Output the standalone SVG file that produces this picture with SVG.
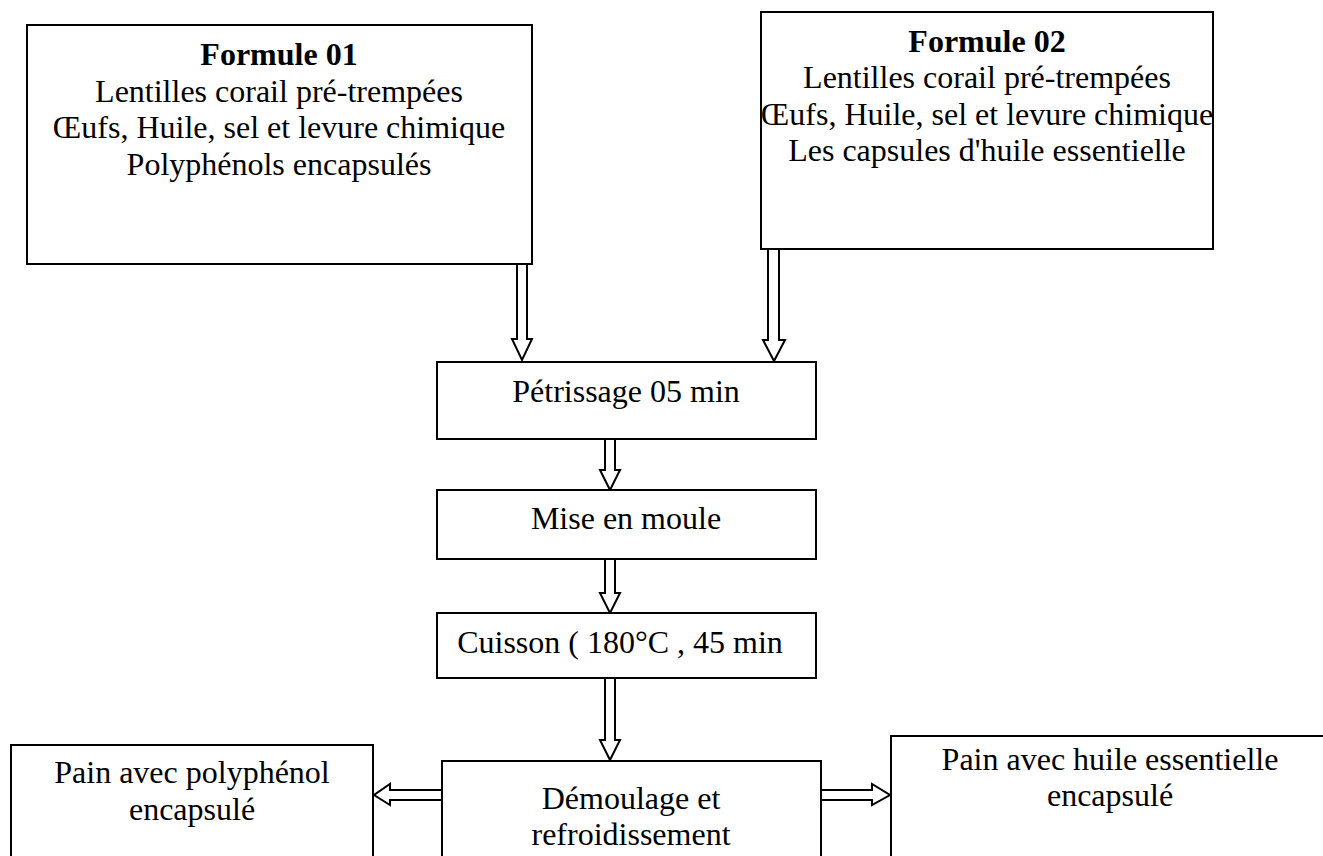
<svg xmlns="http://www.w3.org/2000/svg" width="1323" height="856" viewBox="0 0 1323 856">
<style>
.box{fill:#fff;stroke:#000;stroke-width:2}
.arr{fill:#fff;stroke:#000;stroke-width:2;stroke-linejoin:miter}
text{font-family:"Liberation Serif","Times New Roman",serif;font-size:32px;fill:#000;text-anchor:middle}
.b{font-weight:bold}
</style>
<rect width="1323" height="856" fill="#fff"/>
<g id="connectors">
<polygon class="arr" points="517,264 517,339 512,339 522,360 532,339 527,339 527,264"/>
<polygon class="arr" points="768,249 768,340 763,340 774,361 785,340 779,340 779,249"/>
<polygon class="arr" points="605,439 605,470 600,470 610,490 620,470 615,470 615,439"/>
<polygon class="arr" points="605,559 605,593 600,593 610,613 620,593 615,593 615,559"/>
<polygon class="arr" points="605,678 605,740 600,740 610,760 620,740 615,740 615,678"/>
<polygon class="arr" points="442,790 390,790 390,784 374,795 390,805 390,800 442,800"/>
<polygon class="arr" points="821,790 872,790 872,784 890,795 872,805 872,800 821,800"/>
</g>
<g id="formule01">
<rect class="box" x="27" y="25" width="505" height="239"/>
<text x="279" y="65" class="b">Formule 01</text>
<text x="279" y="101.5">Lentilles corail pré-trempées</text>
<text x="279" y="138">Œufs, Huile, sel et levure chimique</text>
<text x="279" y="174.5">Polyphénols encapsulés</text>
</g>
<g id="formule02">
<rect class="box" x="761" y="12" width="452" height="237"/>
<text x="987" y="51.5" class="b">Formule 02</text>
<text x="987" y="88">Lentilles corail pré-trempées</text>
<text x="987" y="124.5">Œufs, Huile, sel et levure chimique</text>
<text x="987" y="161">Les capsules d'huile essentielle</text>
</g>
<g id="petrissage">
<rect class="box" x="437" y="362" width="379" height="77"/>
<text x="626" y="402">Pétrissage 05 min</text>
</g>
<g id="mise">
<rect class="box" x="437" y="490" width="379" height="69"/>
<text x="626" y="529">Mise en moule</text>
</g>
<g id="cuisson">
<rect class="box" x="437" y="613" width="379" height="65"/>
<text x="620" y="653">Cuisson ( 180°C , 45 min</text>
</g>
<g id="demoulage">
<rect class="box" x="442" y="761" width="379" height="110"/>
<text x="631" y="809">Démoulage et</text>
<text x="631" y="845">refroidissement</text>
</g>
<g id="pain-polyphenol">
<rect class="box" x="11" y="745" width="362" height="126"/>
<text x="192" y="783">Pain avec polyphénol</text>
<text x="192" y="820">encapsulé</text>
</g>
<g id="pain-huile">
<rect class="box" x="891" y="736" width="440" height="135"/>
<text x="1110" y="770">Pain avec huile essentielle</text>
<text x="1110" y="806">encapsulé</text>
</g>
</svg>
